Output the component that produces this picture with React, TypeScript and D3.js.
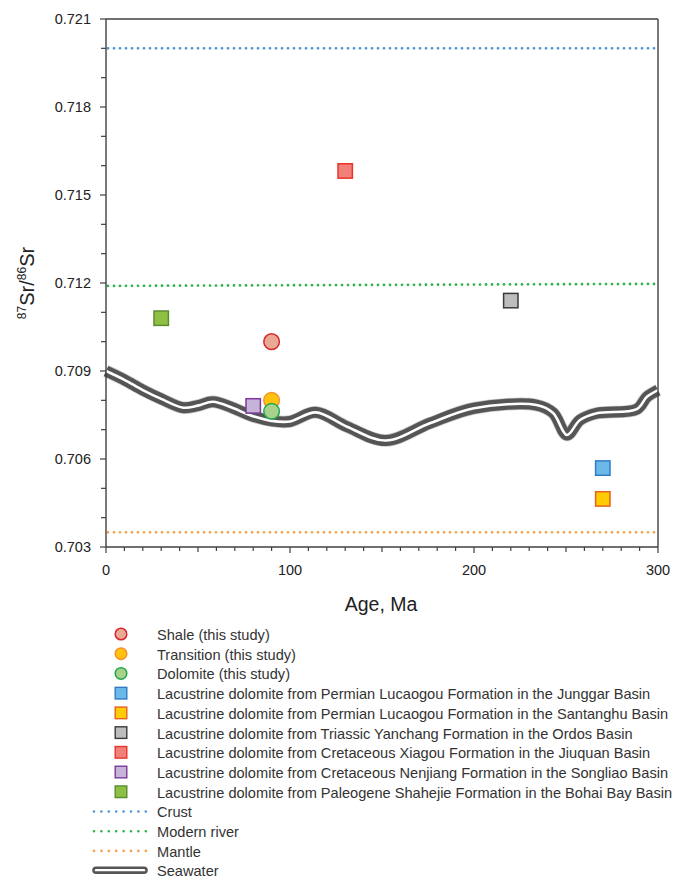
import React from "react";
import * as d3 from "d3";

// ---------- data ----------
const seawaterAge = [0, 10, 20, 30, 42, 50, 58, 69, 78, 90, 100, 114, 131, 152, 176, 200, 234, 243, 250.5, 257.6, 266.7, 288.5, 294, 300];
const seawaterSr = [0.709, 0.7087, 0.70835, 0.70805, 0.70775, 0.70782, 0.70795, 0.70774, 0.7075, 0.7073, 0.70728, 0.70759, 0.7071, 0.70663, 0.70722, 0.70773, 0.70784, 0.70757, 0.70682, 0.70733, 0.70756, 0.7077, 0.70812, 0.70835];

const seriesNames = [
  "Shale (this study)",
  "Transition (this study)",
  "Dolomite (this study)",
  "Lacustrine dolomite from Permian Lucaogou Formation in the Junggar Basin",
  "Lacustrine dolomite from Permian Lucaogou Formation in the Santanghu Basin",
  "Lacustrine dolomite from Triassic Yanchang Formation in the Ordos Basin",
  "Lacustrine dolomite from Cretaceous Xiagou Formation in the Jiuquan Basin",
  "Lacustrine dolomite from Cretaceous Nenjiang Formation in the Songliao Basin",
  "Lacustrine dolomite from Paleogene Shahejie Formation in the Bohai Bay Basin",
];
const seriesAge = [90, 90, 90, 270, 270, 220, 130, 80, 30];
const seriesSr = [0.71, 0.708, 0.70763, 0.70569, 0.70464, 0.7114, 0.71582, 0.70781, 0.7108];
const seriesShape = ["circle", "circle", "circle", "square", "square", "square", "square", "square", "square"];
const seriesFill = ["#e9a995", "#ffc20e", "#a9d18e", "#6cb8e8", "#ffcb05", "#bdbdbd", "#f08078", "#c7b2d8", "#8dc043"];
const seriesStroke = ["#d9262a", "#f5922a", "#20a84a", "#2f7cc4", "#e2621f", "#3a3a3a", "#e8342c", "#7a3a9c", "#5c8c2e"];

const refNames = ["Crust", "Modern river", "Mantle"];
const refStart = [0.72, 0.7119, 0.7035];
const refEnd = [0.72, 0.71197, 0.7035];
const refColors = ["#4f93d8", "#2fb34a", "#f7a04a"];

const xTicks = [0, 100, 200, 300];
const yTicks = [0.703, 0.706, 0.709, 0.712, 0.715, 0.718, 0.721];

// ---------- layout ----------
const W = 675;
const H = 879;
const L = 106, R = 658, T = 19, B = 547;
const FONT = "'Liberation Sans', Arial, sans-serif";
const AXIS = "#404040";

export default function App() {
  const x = d3.scaleLinear().domain([0, 300]).range([L, R]);
  const y = d3.scaleLinear().domain([0.703, 0.721]).range([B, T]);

  const seaLine = d3
    .line<number>()
    .x((_, i) => x(seawaterAge[i]))
    .y((d) => y(d))
    .curve(d3.curveCatmullRom.alpha(0.5));
  const seaPath = seaLine(seawaterSr) || "";

  const xMinor = d3.range(0, 301, 10);
  const yMinor = d3.range(0, 19).map((i) => 0.703 + i * 0.001);

  const legendY0 = 635;
  const legendDy = 19.72;
  const legSymX = 121;
  const legTextX = 157;
  const dotted = { strokeDasharray: "0 6", strokeLinecap: "round" as const, strokeWidth: 2.8 };

  return (
    <svg width={W} height={H} style={{ display: "block", position: "absolute", left: 0, top: 0 }} fontFamily={FONT}>
      <rect width={W} height={H} fill="#fff" />
      {/* reference lines */}
      {refNames.map((n, i) => (
        <line key={n} x1={x(0) + 2} x2={x(300) - 1} y1={y(refStart[i])} y2={y(refEnd[i])} stroke={refColors[i]} {...dotted} />
      ))}
      {/* seawater */}
      <path d={seaPath} fill="none" stroke="#c8c8c8" strokeWidth={12.5} />
      <path d={seaPath} fill="none" stroke="#555" strokeWidth={11} />
      <path d={seaPath} fill="none" stroke="#fff" strokeWidth={2.6} />
      {/* axes box */}
      <line x1={L} x2={R} y1={T} y2={T} stroke={AXIS} strokeWidth={1.4} />
      <line x1={R} x2={R} y1={T} y2={B} stroke={AXIS} strokeWidth={1.4} />
      <line x1={L} x2={R} y1={B} y2={B} stroke={AXIS} strokeWidth={1.4} />
      <line x1={L} x2={L} y1={T} y2={B} stroke={AXIS} strokeWidth={1.4} />
      {xMinor.map((v) => (
        <line key={"xm" + v} x1={x(v)} x2={x(v)} y1={B} y2={B + (v % 100 === 0 ? 6 : v % 50 === 0 ? 5 : 4)} stroke={AXIS} strokeWidth={1.2} />
      ))}
      {yMinor.map((v, i) => (
        <line key={"ym" + i} x1={L - (i % 3 === 0 ? 6 : 5)} x2={L} y1={y(v)} y2={y(v)} stroke={AXIS} strokeWidth={1.2} />
      ))}
      {xTicks.map((v) => (
        <text key={"xt" + v} x={x(v)} y={575} textAnchor="middle" fontSize={14.5} fill="#222">
          {v}
        </text>
      ))}
      {yTicks.map((v) => (
        <text key={"yt" + v} x={91} y={y(v) + 5} textAnchor="end" fontSize={14.5} fill="#222">
          {v.toFixed(3)}
        </text>
      ))}
      {/* axis titles */}
      <text x={381} y={611} textAnchor="middle" fontSize={19.5} fill="#222">
        Age, Ma
      </text>
      <text transform={`translate(34, ${(T + B) / 2}) rotate(-90)`} textAnchor="middle" fontSize={20} fill="#222">
        <tspan fontSize={12} dy={-8}>87</tspan>
        <tspan dy={8}>Sr/</tspan>
        <tspan fontSize={12} dy={-8}>86</tspan>
        <tspan dy={8}>Sr</tspan>
      </text>
      {/* points */}
      {seriesNames.map((n, i) => {
        const cx = x(seriesAge[i]);
        const cy = y(seriesSr[i]);
        return seriesShape[i] === "circle" ? (
          <circle key={n} cx={cx} cy={cy} r={7.8} fill={seriesFill[i]} stroke={seriesStroke[i]} strokeWidth={1.5} />
        ) : (
          <rect key={n} x={cx - 7.2} y={cy - 7.2} width={14.4} height={14.4} fill={seriesFill[i]} stroke={seriesStroke[i]} strokeWidth={1.5} />
        );
      })}
      {/* legend */}
      {seriesNames.map((n, i) => {
        const cy = legendY0 + i * legendDy;
        return (
          <g key={"lg" + n}>
            {seriesShape[i] === "circle" ? (
              <circle cx={legSymX} cy={cy - 1} r={5.8} fill={seriesFill[i]} stroke={seriesStroke[i]} strokeWidth={1.5} />
            ) : (
              <rect x={legSymX - 5.8} y={cy - 6.8} width={11.6} height={11.6} fill={seriesFill[i]} stroke={seriesStroke[i]} strokeWidth={1.4} />
            )}
            <text x={legTextX} y={cy + 5} fontSize={14.6} fill="#333">
              {n}
            </text>
          </g>
        );
      })}
      {refNames.map((n, i) => {
        const cy = legendY0 + (seriesNames.length + i) * legendDy;
        return (
          <g key={"lr" + n}>
            <line x1={94} x2={146} y1={cy - 1} y2={cy - 1} stroke={refColors[i]} strokeDasharray="0 7.4" strokeLinecap="round" strokeWidth={2.6} />
            <text x={legTextX} y={cy + 5} fontSize={14.6} fill="#333">
              {n}
            </text>
          </g>
        );
      })}
      {(() => {
        const cy = legendY0 + (seriesNames.length + refNames.length) * legendDy - 1.5;
        return (
          <g>
            <line x1={96} x2={144} y1={cy} y2={cy} stroke="#555" strokeWidth={7.5} strokeLinecap="round" />
            <line x1={96} x2={144} y1={cy} y2={cy} stroke="#fff" strokeWidth={2.4} strokeLinecap="round" />
            <text x={legTextX} y={cy + 5.5} fontSize={14.6} fill="#333">
              Seawater
            </text>
          </g>
        );
      })()}
    </svg>
  );
}
